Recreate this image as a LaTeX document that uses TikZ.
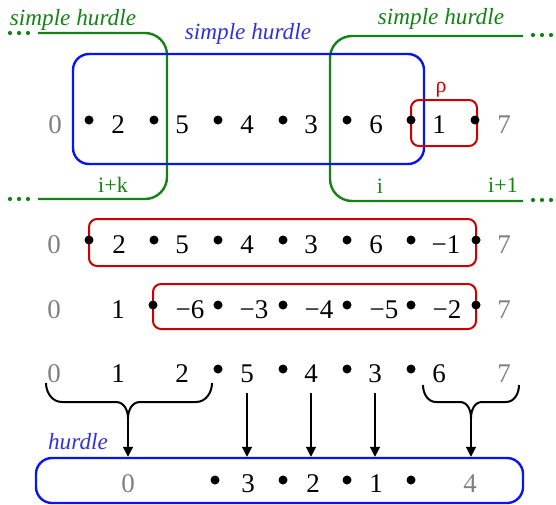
\documentclass[tikz,border=0pt]{standalone}
\usepackage{fontspec}
\setmainfont{Liberation Serif}
\usetikzlibrary{arrows.meta}
\definecolor{hgreen}{RGB}{20,130,20}
\definecolor{hblue}{RGB}{10,20,240}
\definecolor{hbluetext}{RGB}{50,50,215}
\definecolor{hred}{RGB}{205,0,0}
\definecolor{hgray}{RGB}{128,128,128}
\begin{document}
\begin{tikzpicture}[x=0.5pt,y=-0.5pt,
  num/.style={anchor=base,inner sep=0pt,font=\fontsize{13.5}{16}\selectfont},
  gnum/.style={num,text=hgray},
  dotn/.style={circle,fill=black,inner sep=0pt,minimum size=4.5pt},
  gdot/.style={circle,fill=hgreen,inner sep=0pt,minimum size=2.1pt},
  lab/.style={anchor=base,inner sep=0pt,font=\fontsize{11.6}{14}\selectfont\itshape},
  smalllab/.style={anchor=base,inner sep=0pt,font=\fontsize{11}{13}\selectfont},
  gline/.style={draw=hgreen,line width=1.2pt,rounded corners=11pt},
  rbox/.style={draw=hred,line width=1pt,rounded corners=4pt},
  bbox/.style={draw=hblue,line width=1.2pt,rounded corners=8pt},
  arr/.style={-{Triangle[length=5pt,width=5pt]},line width=0.9pt},
  bracepath/.style={line width=1pt}]
\useasboundingbox (0,0) rectangle (556,504);

% ---------- top part ----------
\draw[gline] (38,33) -- (167,33) -- (167,199) -- (38,199);
\draw[gline] (523,36) -- (330,36) -- (330,201) -- (523,201);
\foreach \x in {10,19,28} {\node[gdot] at (\x,33) {}; \node[gdot] at (\x,199) {};}
\foreach \x in {533,542,551} {\node[gdot] at (\x,35) {}; \node[gdot] at (\x,200) {};}
\draw[bbox] (73,54) rectangle (424,164);
\draw[rbox] (411,100) rectangle (477,146);

\node[lab,text=hgreen] (lg) at (73,25) {simple hurdle};
\node[lab,text=hbluetext] (lb) at (248,39) {simple hurdle};
\node[lab,text=hgreen] (rg) at (441,24) {simple hurdle};
\node[smalllab,text=hgreen] (ik) at (113,192) {i+k};
\node[smalllab,text=hgreen] (ii) at (380,193) {i};
\node[smalllab,text=hgreen] (i1) at (503,192) {i+1};
\node[smalllab,text=hred] (rho) at (441,92) {ρ};

% row 1
\node[gnum] (r1a) at (55,133) {0};
\node[num] (r1b) at (118,133) {2};
\node[num] (r1c) at (182,133) {5};
\node[num] (r1d) at (247,133) {4};
\node[num] (r1e) at (311,133) {3};
\node[num] (r1f) at (376,133) {6};
\node[num] (r1g) at (439,133) {1};
\node[gnum] (r1h) at (504,133) {7};
\foreach \x [count=\i] in {89,154,218,283,347,411,475} {\node[dotn] (r1d\i) at (\x,120) {};}

% row 2
\draw[rbox] (89,219) rectangle (476,266);
\node[gnum] (r2a) at (54,253) {0};
\node[num] (r2b) at (119,253) {2};
\node[num] (r2c) at (182,253) {5};
\node[num] (r2d) at (247,253) {4};
\node[num] (r2e) at (311,253) {3};
\node[num] (r2f) at (376,253) {6};
\node[num] (r2g) at (446,253) {−1};
\node[gnum] (r2h) at (504,253) {7};
\foreach \x [count=\i] in {89,154,218,283,347,411,476} {\node[dotn] (r2d\i) at (\x,240) {};}

% row 3
\draw[rbox] (153,284) rectangle (476,329);
\node[gnum] (r3a) at (54,318) {0};
\node[num] (r3b) at (118,318) {1};
\node[num] (r3c) at (190,318) {−6};
\node[num] (r3d) at (254,318) {−3};
\node[num] (r3e) at (319,318) {−4};
\node[num] (r3f) at (384,318) {−5};
\node[num] (r3g) at (447,318) {−2};
\node[gnum] (r3h) at (504,318) {7};
\foreach \x [count=\i] in {153,218,283,347,411,476} {\node[dotn] (r3d\i) at (\x,305) {};}

% row 4
\node[gnum] (r4a) at (54,382) {0};
\node[num] (r4b) at (118,382) {1};
\node[num] (r4c) at (182,382) {2};
\node[num] (r4d) at (247,382) {5};
\node[num] (r4e) at (311,382) {4};
\node[num] (r4f) at (375,382) {3};
\node[num] (r4g) at (439,382) {6};
\node[gnum] (r4h) at (504,382) {7};
\foreach \x [count=\i] in {218,283,347,411} {\node[dotn] (r4d\i) at (\x,369) {};}

% bottom hurdle box
\node[bbox,rectangle,inner sep=0pt,minimum width=243.5pt,minimum height=22.5pt] (hb) at (279.5,480.5) {};
\node[lab,text=hbluetext] (hl) at (78,449) {hurdle};
\node[gnum] (b0) at (128,492) {0};
\node[num] (b3) at (248,492) {3};
\node[num] (b2) at (313,492) {2};
\node[num] (b1) at (376,492) {1};
\node[gnum] (b4) at (470,492) {4};
\foreach \x [count=\i] in {215,283,347,411} {\node[dotn] (bd\i) at (\x,480) {};}

% braces
\coordinate (lbt) at (128,418);
\coordinate (rbt) at (471,418);
\draw[bracepath] (46,383) to[out=-90,in=180] (62,402) -- (116,402) to[out=0,in=90] (lbt)
  to[out=90,in=180] (140,402) -- (196,402) to[out=0,in=-90] (212,383);
\draw[bracepath] (423,385) to[out=-90,in=180] (436,402) -- (460,402) to[out=0,in=90] (rbt)
  to[out=90,in=180] (482,402) -- (506,402) to[out=0,in=-90] (519,385);

% arrows
\draw[arr] (lbt) -- (lbt |- hb.north);
\draw[arr] (rbt) -- (rbt |- hb.north);
\draw[arr] ([yshift=-5.5pt]r4d.base) -- (r4d.base |- hb.north);
\draw[arr] ([yshift=-5.5pt]r4e.base) -- (r4e.base |- hb.north);
\draw[arr] ([yshift=-5.5pt]r4f.base) -- (r4f.base |- hb.north);
\end{tikzpicture}
\end{document}
